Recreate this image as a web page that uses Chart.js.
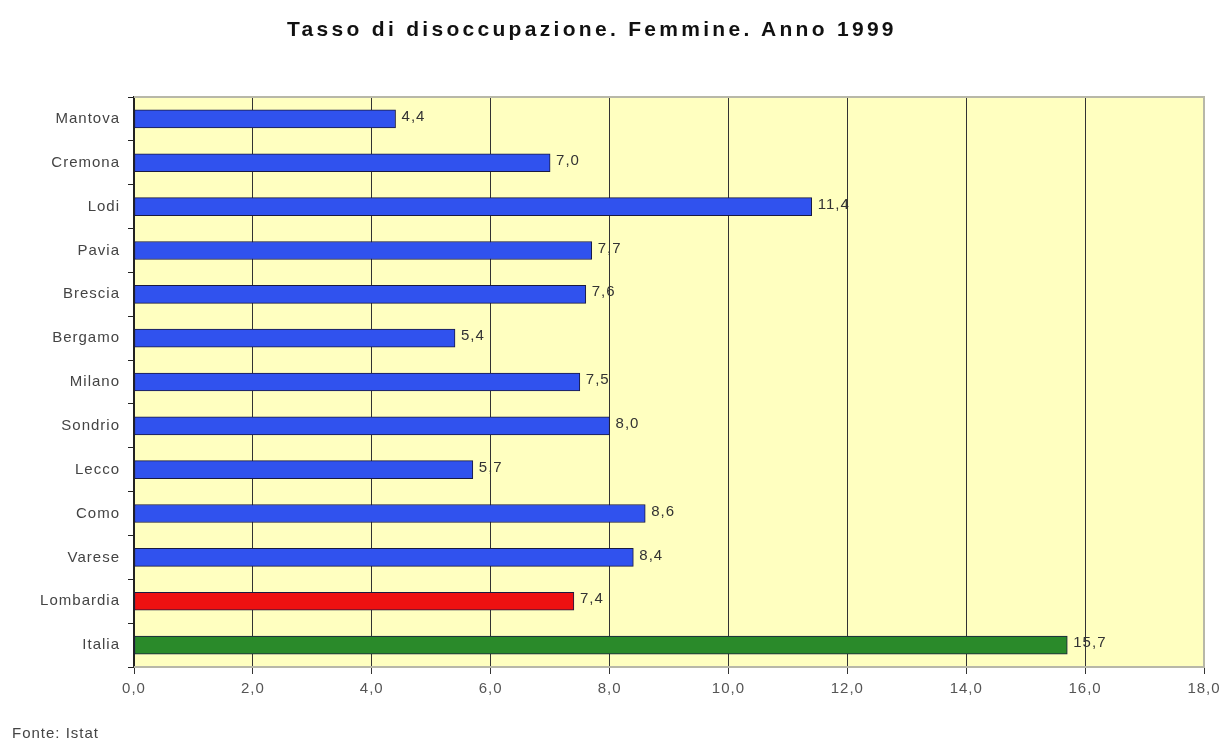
<!DOCTYPE html>
<html>
<head>
<meta charset="utf-8">
<script src="https://cdn.jsdelivr.net/npm/chart.js@4/dist/chart.umd.min.js"></script>
<style>
  html, body { margin: 0; padding: 0; background: #fff; }
  #wrap { position: relative; width: 1231px; height: 747px; }
  #title {
    position: absolute; left: 287px; top: 17px;
    font: bold 21px "Liberation Sans", Arial, sans-serif; color: #111;
    letter-spacing: 3.3px; white-space: nowrap;
  }
  #source {
    position: absolute; left: 12px; top: 724px;
    font: 15px "Liberation Sans", Arial, sans-serif; color: #444;
    letter-spacing: 1px;
  }
</style>
</head>
<body>
<div id="wrap">
  <canvas id="chart" width="1231" height="747"></canvas>
  <div id="title">Tasso di disoccupazione. Femmine. Anno 1999</div>
  <div id="source">Fonte: Istat</div>
</div>
<script>
// Tasso di disoccupazione femminile, 1999 (Fonte: Istat)
const provinces = ['Mantova', 'Cremona', 'Lodi', 'Pavia', 'Brescia', 'Bergamo', 'Milano',
  'Sondrio', 'Lecco', 'Como', 'Varese', 'Lombardia', 'Italia'];
const rates = [4.4, 7.0, 11.4, 7.7, 7.6, 5.4, 7.5, 8.0, 5.7, 8.6, 8.4, 7.4, 15.7];
const xTicks = [0, 2, 4, 6, 8, 10, 12, 14, 16, 18];

const BLUE = '#3052ee';
const barColors = provinces.map(p => p === 'Lombardia' ? '#ee1111' : p === 'Italia' ? '#2a8a2a' : BLUE);

const fmt = (v) => Number(v).toFixed(1).replace('.', ',');
const FONT = { family: '"Liberation Sans", Arial, sans-serif', size: 15 };

// old-spreadsheet look: text a little spread out
const spacing = {
  id: 'spacing',
  beforeLayout(chart) { chart.ctx.letterSpacing = '1px'; },
  beforeDraw(chart) { chart.ctx.letterSpacing = '1px'; }
};

// pale yellow plot area with a light grey frame
const plotBg = {
  id: 'plotBg',
  beforeDraw(chart) {
    const { ctx, chartArea: a } = chart;
    ctx.save();
    ctx.fillStyle = '#ffffc0';
    ctx.fillRect(a.left, a.top, a.right - a.left, a.bottom - a.top);
    ctx.restore();
  },
  afterDraw(chart) {
    const { ctx, chartArea: a } = chart;
    ctx.save();
    ctx.strokeStyle = '#b8b8a8';
    ctx.lineWidth = 2;
    ctx.beginPath();
    ctx.moveTo(a.left, a.top);
    ctx.lineTo(a.right, a.top);
    ctx.lineTo(a.right, a.bottom);
    ctx.lineTo(a.left, a.bottom);
    ctx.stroke();
    ctx.restore();
  }
};

// value labels at the end of each bar
const valueLabels = {
  id: 'valueLabels',
  afterDatasetsDraw(chart) {
    const { ctx } = chart;
    const meta = chart.getDatasetMeta(0);
    ctx.save();
    ctx.font = `${FONT.size}px ${FONT.family}`;
    ctx.fillStyle = '#333';
    ctx.textBaseline = 'middle';
    meta.data.forEach((bar, i) => {
      ctx.fillText(fmt(rates[i]), bar.x + 6, bar.y - 2);
    });
    ctx.restore();
  }
};

new Chart(document.getElementById('chart'), {
  type: 'bar',
  data: {
    labels: provinces,
    datasets: [{
      data: rates,
      backgroundColor: barColors,
      borderColor: '#1a1a40',
      borderWidth: 1,
      borderSkipped: false,
      barThickness: 18,
    }]
  },
  options: {
    indexAxis: 'y',
    responsive: false,
    animation: false,
    layout: { padding: { top: 97, right: 27, bottom: 0, left: 0 } },
    plugins: {
      legend: { display: false },
      tooltip: { enabled: false },
    },
    scales: {
      x: {
        min: 0,
        max: 18,
        afterBuildTicks: (axis) => { axis.ticks = xTicks.map(v => ({ value: v })); },
        afterFit: (axis) => { axis.height = 80; },
        grid: { color: '#333', lineWidth: 1, tickLength: 7, drawOnChartArea: true },
        border: { display: false },
        ticks: {
          color: '#555',
          font: FONT,
          padding: 6,
          callback: (v) => fmt(v),
        }
      },
      y: {
        afterFit: (axis) => { axis.width = 134; },
        grid: { drawOnChartArea: false, color: '#222', tickLength: 6, offset: true },
        border: { display: true, color: '#222', width: 2 },
        ticks: { color: '#444', font: FONT, padding: 8 }
      }
    }
  },
  plugins: [spacing, plotBg, valueLabels]
});
</script>
</body>
</html>
